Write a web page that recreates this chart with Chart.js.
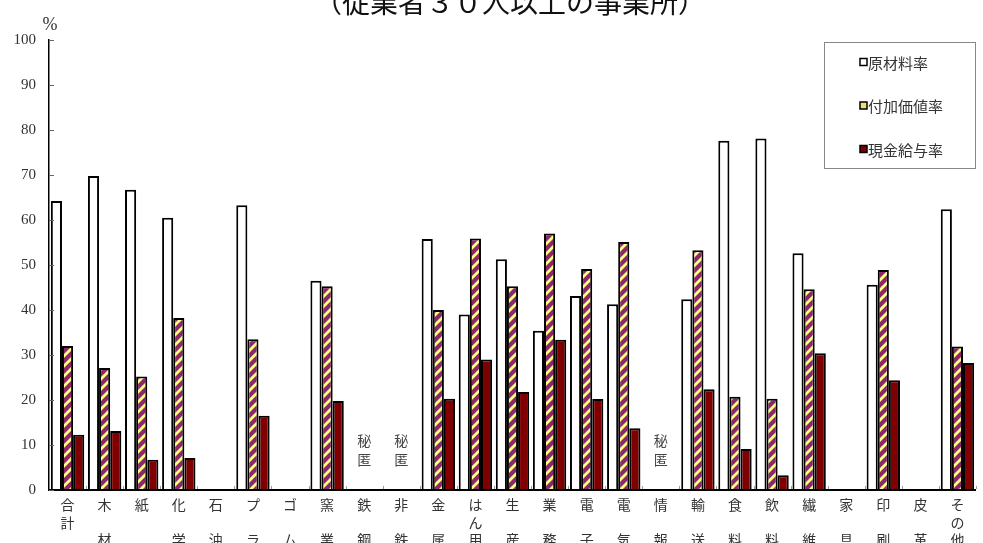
<!DOCTYPE html>
<html>
<head>
<meta charset="utf-8">
<script src="https://cdn.jsdelivr.net/npm/chart.js@4/dist/chart.umd.min.js"></script>
<style>
  html, body { margin: 0; padding: 0; background: #fff; }
  #wrap { width: 983px; height: 543px; position: relative; }
</style>
</head>
<body>
<div id="wrap"><canvas id="chart"></canvas></div>
<script>
// categories (vertical labels, one character per line)
const categories = [
  ['合', '計'], ['木', '', '材'], ['紙'], ['化', '', '学'], ['石', '', '油'],
  ['プ', '', 'ラ'], ['ゴ', '', 'ム'], ['窯', '', '業'], ['鉄', '', '鋼'], ['非', '', '鉄'],
  ['金', '', '属'], ['は', 'ん', '用'], ['生', '', '産'], ['業', '', '務'], ['電', '', '子'],
  ['電', '', '気'], ['情', '', '報'], ['輸', '', '送'], ['食', '', '料'], ['飲', '', '料'],
  ['繊', '', '維'], ['家', '', '具'], ['印', '', '刷'], ['皮', '', '革'], ['そ', 'の', '他']
];

const seriesNames = ['原材料率', '付加価値率', '現金給与率'];

const materialRate = [64.2, 69.8, 66.7, 60.5, null, 63.3, null, 46.5, null, null,
  55.8, 39.0, 51.3, 35.4, 43.1, 41.3, null, 42.4, 77.6, 78.1, 52.6, null, 45.6, null, 62.4];
const valueAddedRate = [32.0, 27.1, 25.2, 38.2, null, 33.5, null, 45.3, null, null,
  40.0, 55.9, 45.3, 57.0, 49.1, 55.1, null, 53.3, 20.7, 20.3, 44.6, null, 48.9, null, 31.9];
const wageRate = [12.3, 13.1, 6.7, 7.1, null, 16.5, null, 19.8, null, null,
  20.3, 29.0, 21.8, 33.4, 20.2, 13.7, null, 22.4, 9.1, 3.3, 30.4, null, 24.4, null, 28.2];

// categories where the figures are withheld
const secretIndex = [8, 9, 16];
const secretLabel = '秘匿';

const yTicks = [0, 10, 20, 30, 40, 50, 60, 70, 80, 90, 100];
const titleText = '（従業者３０人以上の事業所）';
const unitText = '%';

const jpFont = '"Noto Sans CJK JP", "Noto Sans", sans-serif';
const numFont = '"Liberation Serif", "DejaVu Serif", serif';

function stripePattern() {
  const s = 10;
  const c = document.createElement('canvas');
  c.width = s; c.height = s;
  const g = c.getContext('2d');
  g.fillStyle = '#8a2868';
  g.fillRect(0, 0, s, s);
  g.strokeStyle = '#ffff88';
  g.lineWidth = 2.8;
  g.beginPath();
  g.moveTo(-2, s + 2); g.lineTo(s + 2, -2);
  g.moveTo(-2, 2); g.lineTo(2, -2);
  g.moveTo(s - 2, s + 2); g.lineTo(s + 2, s - 2);
  g.stroke();
  return g.createPattern(c, 'repeat');
}
const stripes = stripePattern();
const fills = ['#ffffff', stripes, '#800000'];

const decorations = {
  id: 'decorations',
  afterDatasetsDraw(chart) {
    const { ctx, chartArea } = chart;
    // category axis line, drawn over the bar bottoms
    ctx.save();
    ctx.strokeStyle = '#000';
    ctx.lineWidth = 2;
    ctx.beginPath();
    ctx.moveTo(chartArea.left, chartArea.bottom);
    ctx.lineTo(chartArea.right, chartArea.bottom);
    ctx.stroke();
    ctx.restore();
  },
  afterDraw(chart) {
    const { ctx, chartArea, scales } = chart;
    const x = scales.x, y = scales.y;
    ctx.save();

    // tick marks on y axis (inside)
    ctx.strokeStyle = '#666';
    ctx.lineWidth = 1;
    yTicks.forEach(v => {
      const py = Math.round(y.getPixelForValue(v)) + 0.5;
      ctx.beginPath();
      ctx.moveTo(chartArea.left, py);
      ctx.lineTo(chartArea.left + 5, py);
      ctx.stroke();
    });
    // tick marks between categories on x axis
    const step = (chartArea.right - chartArea.left) / categories.length;
    ctx.strokeStyle = '#999';
    for (let i = 1; i <= categories.length; i++) {
      const px = Math.round(chartArea.left + i * step) + 0.5;
      ctx.beginPath();
      ctx.moveTo(px, chartArea.bottom - 4);
      ctx.lineTo(px, chartArea.bottom - 1);
      ctx.stroke();
    }

    // title
    ctx.fillStyle = '#111';
    ctx.font = '28px ' + jpFont;
    ctx.textAlign = 'center';
    ctx.textBaseline = 'middle';
    ctx.fillText(titleText, 510, 2);

    // unit
    ctx.font = '18px ' + numFont;
    ctx.fillStyle = '#333';
    ctx.fillText(unitText, chartArea.left + 1, 25);

    // withheld labels
    ctx.font = '14px ' + jpFont;
    ctx.fillStyle = '#444';
    secretIndex.forEach(i => {
      const px = x.getPixelForValue(i);
      [...secretLabel].forEach((ch, k) => {
        ctx.fillText(ch, px, chartArea.bottom - 49 + k * 19);
      });
    });

    // legend box
    const bx = 824.5, by = 42.5, bw = chartArea.right - 825, bh = 126;
    ctx.fillStyle = '#fff';
    ctx.fillRect(bx, by, bw, bh);
    ctx.strokeStyle = '#888';
    ctx.lineWidth = 1;
    ctx.strokeRect(bx, by, bw, bh);
    ctx.textAlign = 'left';
    ctx.font = '15px ' + jpFont;
    seriesNames.forEach((name, k) => {
      const cy = 62 + k * 43.5;
      ctx.fillStyle = k === 1 ? '#f0e070' : fills[k];
      ctx.fillRect(860, cy - 3.5, 7, 7);
      ctx.strokeStyle = '#000';
      ctx.lineWidth = 1.5;
      ctx.strokeRect(860, cy - 3.5, 7, 7);
      ctx.fillStyle = '#333';
      ctx.fillText(name, 868, cy + 1);
    });
    ctx.restore();
  }
};

new Chart(document.getElementById('chart'), {
  type: 'bar',
  data: {
    labels: categories,
    datasets: [materialRate, valueAddedRate, wageRate].map((d, k) => ({
      label: seriesNames[k],
      data: d,
      backgroundColor: fills[k],
      borderColor: '#000',
      borderWidth: 2,
      borderSkipped: 'bottom',
      barPercentage: 1.0,
      categoryPercentage: 0.9
    }))
  },
  options: {
    responsive: true,
    maintainAspectRatio: false,
    animation: false,
    layout: { padding: { top: 40, right: 7, left: 0, bottom: 0 } },
    plugins: {
      legend: { display: false },
      tooltip: { enabled: false },
      title: { display: false }
    },
    scales: {
      x: {
        grid: { display: false, drawTicks: false },
        border: { display: false },
        ticks: {
          color: '#333',
          font: { family: jpFont, size: 14, lineHeight: '17.5px' },
          padding: 6,
          maxRotation: 0,
          autoSkip: false
        },
        afterFit(scale) { scale.height = 53; }
      },
      y: {
        min: 0,
        max: 100,
        grid: { display: false, drawTicks: false },
        border: { display: true, color: '#000', width: 1.5 },
        ticks: {
          stepSize: 10,
          color: '#333',
          font: { family: numFont, size: 15 },
          padding: 13
        },
        afterFit(scale) { scale.width = 49; }
      }
    }
  },
  plugins: [decorations]
});
</script>
</body>
</html>
